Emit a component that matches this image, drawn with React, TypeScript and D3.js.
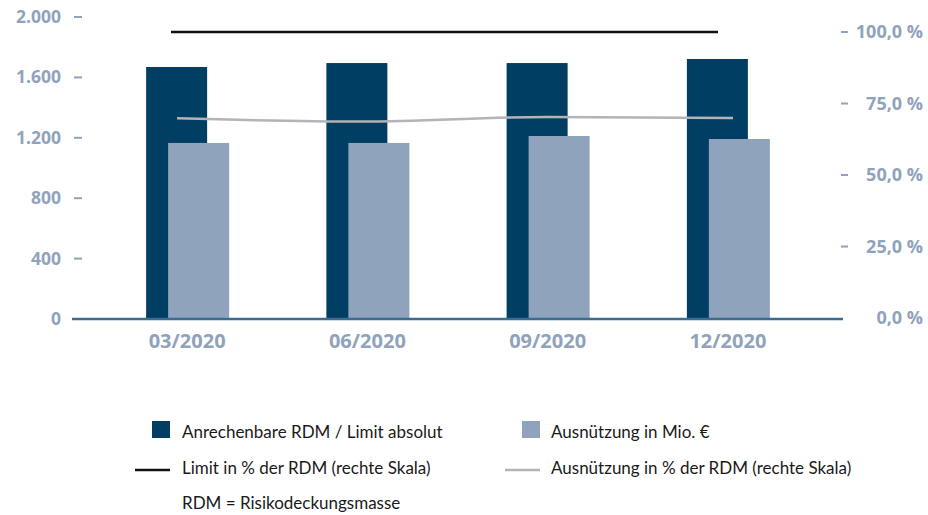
import React from 'react';
import * as d3 from 'd3';

const categories = ['03/2020', '06/2020', '09/2020', '12/2020'];
const rdmLimit = [1669, 1695, 1695, 1722];
const usage = [1166, 1166, 1212, 1192];
const limitPct = [100, 100, 100, 100];
const usagePct = [69.8, 68.7, 70.3, 69.9];
const leftTicks = [0, 400, 800, 1200, 1600, 2000];
const rightTicks = [0, 25, 50, 75, 100];

const DARK = '#003f63';
const LIGHT = '#8fa3bc';
const GREY = '#b3b3b8';
const AXIS_TXT = '#8fa3bc';
const FONT = '"Open Sans", sans-serif';
const LEGEND_FONT = 'Lato, "Open Sans", sans-serif';

const fmtLeft = (v: number) => d3.format(',')(v).replace(/,/g, '.');
const fmtRight = (v: number) => d3.format('.1f')(v).replace('.', ',') + ' %';

export default function App() {
  const width = 928;
  const height = 515;

  const yL = d3.scaleLinear().domain([0, 2000]).range([319, 17]);
  const yR = d3.scaleLinear().domain([0, 100]).range([318, 32]);
  const x = d3.scaleBand().domain(categories).range([97, 818]).paddingInner(0).paddingOuter(0);
  const barW = 61;
  const shift = 22;

  // the lines in the source are not quite aligned with the bars
  const xLimit = d3.scalePoint().domain(categories).range([171, 718]);
  const xUsage = d3.scalePoint().domain(categories).range([177, 733]);

  const limitLine = d3.line<number>()
    .x((_, i) => xLimit(categories[i]) as number)
    .y(d => yR(d));
  const usageLine = d3.line<number>()
    .x((_, i) => xUsage(categories[i]) as number)
    .y(d => yR(d))
    .curve(d3.curveMonotoneX);

  return (
    <svg width={width} height={height} style={{ position: 'absolute', left: 0, top: 0 }}>
      <rect width={width} height={height} fill="#fff" />

      {categories.map((c, i) => {
        const cx = (x(c) as number) + x.bandwidth() / 2;
        return (
          <g key={c}>
            <rect x={cx - 41} y={yL(rdmLimit[i])} width={barW} height={yL(0) - yL(rdmLimit[i])} fill={DARK} />
            <rect x={cx - 41 + shift} y={yL(usage[i])} width={barW} height={yL(0) - yL(usage[i])} fill={LIGHT} />
            <text x={cx} y={348} textAnchor="middle" fontFamily={FONT} fontWeight={700} fontSize={20} fill={AXIS_TXT}>{c}</text>
          </g>
        );
      })}

      <line x1={72} x2={843} y1={319} y2={319} stroke="#3e6b8e" strokeWidth={2.5} />

      <path d={limitLine(limitPct) || ''} fill="none" stroke="#111" strokeWidth={2.5} />
      <path d={usageLine(usagePct) || ''} fill="none" stroke={GREY} strokeWidth={2.5} />

      {leftTicks.map(t => (
        <g key={'l' + t}>
          {t > 0 && <line x1={74} x2={82} y1={yL(t)} y2={yL(t)} stroke={AXIS_TXT} strokeWidth={2} />}
          <text x={61} y={yL(t) + 6} textAnchor="end" fontFamily={FONT} fontWeight={700} fontSize={17.5} fill={AXIS_TXT}>{fmtLeft(t)}</text>
        </g>
      ))}

      {rightTicks.map(t => (
        <g key={'r' + t}>
          {t > 0 && <line x1={841} x2={848} y1={yR(t)} y2={yR(t)} stroke={AXIS_TXT} strokeWidth={2} />}
          <text x={923} y={yR(t) + 6} textAnchor="end" fontFamily={FONT} fontWeight={700} fontSize={18} fill={AXIS_TXT}>{fmtRight(t)}</text>
        </g>
      ))}

      <g fontFamily={LEGEND_FONT} fontSize={17} fill="#1a1a1a">
        <rect x={152} y={421} width={18} height={17} fill={DARK} />
        <text x={182} y={438}>Anrechenbare RDM / Limit absolut</text>
        <rect x={522} y={421} width={18} height={17} fill={LIGHT} />
        <text x={551} y={438}>Ausnützung in Mio. €</text>
        <line x1={135} x2={170} y1={470} y2={470} stroke="#111" strokeWidth={2.5} />
        <text x={182} y={474}>Limit in % der RDM (rechte Skala)</text>
        <line x1={505} x2={540} y1={470} y2={470} stroke={GREY} strokeWidth={2.5} />
        <text x={551} y={474}>Ausnützung in % der RDM (rechte Skala)</text>
        <text x={182} y={509}>RDM = Risikodeckungsmasse</text>
      </g>
    </svg>
  );
}
